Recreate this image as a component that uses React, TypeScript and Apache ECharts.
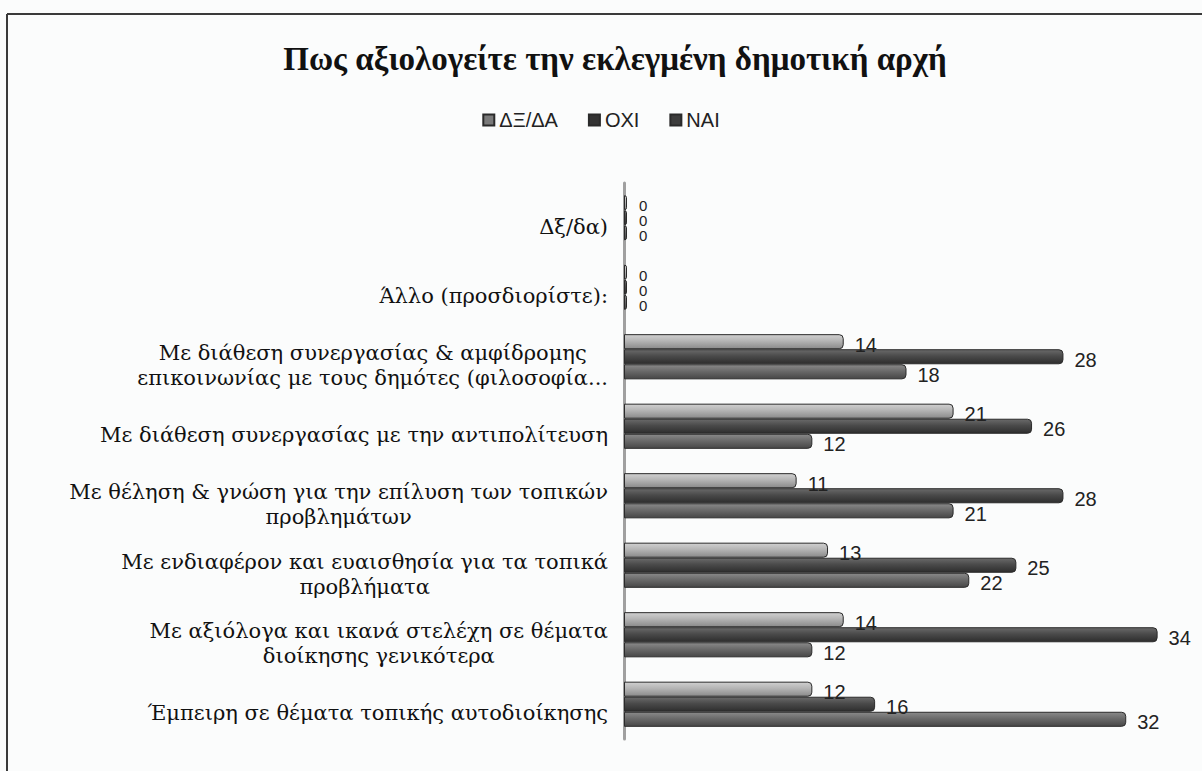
import React, { useEffect, useRef } from "react";
import * as echarts from "echarts";

const categories: string[] = [
  "Δξ/δα)",
  "Άλλο (προσδιορίστε):",
  "Με διάθεση συνεργασίας & αμφίδρομης\nεπικοινωνίας με τους δημότες (φιλοσοφία...",
  "Με διάθεση συνεργασίας με την αντιπολίτευση",
  "Με θέληση & γνώση για την επίλυση των τοπικών\nπροβλημάτων",
  "Με ενδιαφέρον και ευαισθησία για τα τοπικά\nπροβλήματα",
  "Με αξιόλογα και ικανά στελέχη σε θέματα\nδιοίκησης γενικότερα",
  "Έμπειρη σε θέματα τοπικής αυτοδιοίκησης",
];

const seriesNames: string[] = ["ΔΞ/ΔΑ", "ΟΧΙ", "ΝΑΙ"];
const dxda: number[] = [0, 0, 14, 21, 11, 13, 14, 12];
const oxi: number[] = [0, 0, 28, 26, 28, 25, 34, 16];
const nai: number[] = [0, 0, 18, 12, 21, 22, 12, 32];

const title = "Πως αξιολογείτε την εκλεγμένη δημοτική αρχή";

function grad(top: string, mid: string, bot: string) {
  return new echarts.graphic.LinearGradient(0, 0, 0, 1, [
    { offset: 0, color: top },
    { offset: 0.45, color: mid },
    { offset: 1, color: bot },
  ]);
}

export default function App() {
  const ref = useRef<HTMLDivElement>(null);
  useEffect(() => {
    if (!ref.current) return;
    const chart = echarts.init(ref.current, undefined, { renderer: "svg" });
    const fills = [
      grad("#d0d0d0", "#b4b4b4", "#8a8a8a"),
      grad("#6a6a6a", "#4a4a4a", "#2e2e2e"),
      grad("#8a8a8a", "#6a6a6a", "#474747"),
    ];
    const legendColors = ["#7a7a7a", "#333333", "#3c3c3c"];
    const datas = [dxda, oxi, nai];
    chart.setOption({
      animation: false,
      backgroundColor: "#fbfcfc",
      title: {
        text: title,
        left: 610,
        textAlign: "center",
        top: 37,
        textStyle: {
          fontFamily: "Liberation Serif",
          fontWeight: "bold",
          fontSize: 33,
          color: "#111",
        },
      },
      legend: {
        top: 105,
        left: "center",
        itemWidth: 11,
        itemHeight: 11,
        itemGap: 30,
        icon: "rect",
        textStyle: { fontFamily: "Liberation Sans", fontSize: 20, color: "#222" },
        data: seriesNames.map((n, i) => ({ name: n, itemStyle: { color: legendColors[i] } })),
      },
      graphic: [
        { type: "line", shape: { x1: 7, y1: 14, x2: 1202, y2: 14 }, style: { stroke: "#3a3a3a", lineWidth: 2 } },
        { type: "line", shape: { x1: 7, y1: 14, x2: 7, y2: 771 }, style: { stroke: "#3a3a3a", lineWidth: 2 } },
      ],
      grid: { left: 624, top: 183, width: 565, height: 556 },
      xAxis: {
        type: "value",
        min: 0,
        max: 36,
        show: false,
        splitLine: { show: false },
      },
      yAxis: {
        type: "category",
        inverse: true,
        data: categories,
        axisTick: { show: false },
        axisLine: { show: true, lineStyle: { color: "#a0a0a0", width: 3 } },
        axisLabel: {
          margin: 16,
          align: "right",
          padding: [18, 0, 0, 0],
          fontFamily: "DejaVu Serif",
          fontSize: 21,
          color: "#111",
          formatter: (v: string) =>
            v
              .split("\n")
              .map((l) => "{c|" + l + "}")
              .join("\n"),
          rich: {
            c: {
              fontFamily: "DejaVu Serif",
              fontSize: 21,
              color: "#111",
              align: "center",
              lineHeight: 25,
            },
          },
        },
      },
      series: seriesNames.map((n, i) => ({
        name: n,
        type: "bar",
        data: datas[i].map((v) =>
          v === 0 ? { value: v, label: { fontSize: 15, distance: 12 } } : v
        ),
        barGap: "0%",
        barCategoryGap: "35%",
        barMinHeight: 3,
        itemStyle: {
          color: fills[i],
          borderColor: "#2a2a2a",
          borderWidth: 1,
          borderRadius: [0, 4, 4, 0],
        },
        label: {
          show: true,
          position: "right",
          distance: 11,
          offset: [0, 3],
          fontFamily: "Liberation Sans",
          fontSize: 20,
          color: "#222",
        },
      })),
    });
    return () => chart.dispose();
  }, []);
  return (
    <div
      ref={ref}
      style={{ position: "fixed", left: 0, top: 0, width: 1202, height: 771 }}
    />
  );
}
